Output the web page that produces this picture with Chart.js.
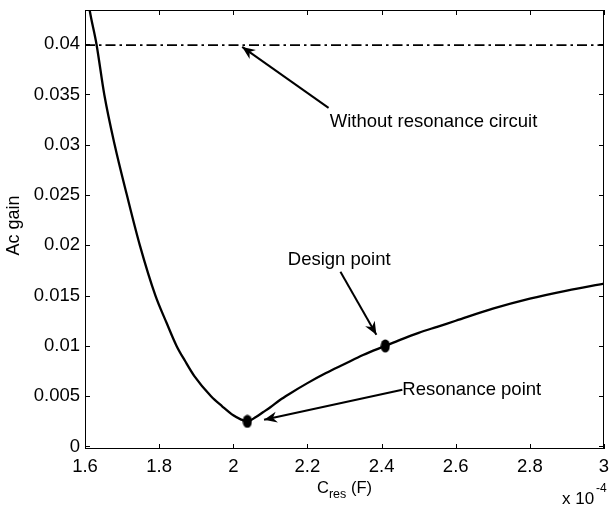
<!DOCTYPE html>
<html>
<head>
<meta charset="utf-8">
<script src="https://cdn.jsdelivr.net/npm/chart.js@4"></script>
<style>
  html, body { margin: 0; padding: 0; background: #fff; }
</style>
</head>
<body>
<canvas id="myChart" width="612" height="509"></canvas>
<script>
// Courbe du gain en fonction de C_res (abscisse en x 10^-4 F)
var cres = [1.600, 1.613, 1.631, 1.652, 1.680, 1.713, 1.748, 1.790, 1.820, 1.847,
            1.870, 1.895, 1.940, 1.970, 2.000, 2.020, 2.038, 2.060, 2.080, 2.100,
            2.125, 2.150, 2.200, 2.250, 2.300, 2.350, 2.410, 2.450, 2.500, 2.550,
            2.600, 2.700, 2.800, 2.900, 3.000];
var gain = [0.0465, 0.0433, 0.0400, 0.0350, 0.0300, 0.0250, 0.0200, 0.0150, 0.0123, 0.0100,
            0.0085, 0.0070, 0.0050, 0.0040, 0.0031, 0.0027, 0.0025, 0.0029, 0.0034, 0.0039,
            0.0046, 0.0052, 0.0063, 0.0073, 0.0082, 0.0091, 0.0100, 0.0106, 0.0113, 0.0119,
            0.0125, 0.0137, 0.0147, 0.0155, 0.0162];

// Sans circuit de résonance (ligne mixte)
var sansResX = [1.6, 3.0];
var sansResY = [0.0399, 0.0399];

// Points remarquables : résonance puis dimensionnement
var pointsX = [2.038, 2.410];
var pointsY = [0.0025, 0.0100];

// Graduations
var xTicks = [1.6, 1.8, 2.0, 2.2, 2.4, 2.6, 2.8, 3.0];
var xLabels = ['1.6', '1.8', '2', '2.2', '2.4', '2.6', '2.8', '3'];
var yTicks = [0, 0.005, 0.01, 0.015, 0.02, 0.025, 0.03, 0.035, 0.04];
var yLabels = ['0', '0.005', '0.01', '0.015', '0.02', '0.025', '0.03', '0.035', '0.04'];

// Annotations (coordonnées en données)
var annotations = [
  { text: 'Without resonance circuit', tx: 2.260, ty: 0.03227, from: [2.257, 0.03367], to: [2.024, 0.03973] },
  { text: 'Design point', tx: 2.147, ty: 0.01856, from: [2.289, 0.01737], to: [2.386, 0.01111] },
  { text: 'Resonance point', tx: 2.456, ty: 0.00564, from: [2.456, 0.00564], to: [2.083, 0.00265] }
];

var police = '"Liberation Sans", Arial, sans-serif';

// Marqueur ellipse pleine
var ellipse = document.createElement('canvas');
ellipse.width = 10;
ellipse.height = 14;
var ec = ellipse.getContext('2d');
ec.fillStyle = '#000';
ec.beginPath();
ec.ellipse(5, 7, 4.6, 6.6, 0, 0, Math.PI * 2);
ec.fill();

function fleche(ctx, x1, y1, x2, y2) {
  ctx.beginPath();
  ctx.moveTo(x1, y1);
  ctx.lineTo(x2, y2);
  ctx.stroke();
  var a = Math.atan2(y2 - y1, x2 - x1);
  var L = 13, W = 5.5, N = 9;
  ctx.save();
  ctx.translate(x2, y2);
  ctx.rotate(a);
  ctx.beginPath();
  ctx.moveTo(0, 0);
  ctx.lineTo(-L, -W);
  ctx.lineTo(-N, 0);
  ctx.lineTo(-L, W);
  ctx.closePath();
  ctx.fill();
  ctx.restore();
}

var cadre = {
  id: 'cadre',
  afterDraw: function(chart) {
    var ctx = chart.ctx;
    var a = chart.chartArea;
    var sx = chart.scales.x, sy = chart.scales.y;
    ctx.save();
    ctx.strokeStyle = '#000';
    ctx.fillStyle = '#000';
    ctx.lineWidth = 1;
    ctx.strokeRect(a.left + 0.5, a.top + 0.5, a.right - a.left - 1, a.bottom - a.top - 1);

    // graduations intérieures sur les quatre côtés
    ctx.beginPath();
    xTicks.forEach(function(v) {
      var px = Math.round(sx.getPixelForValue(v)) + 0.5;
      ctx.moveTo(px, a.bottom); ctx.lineTo(px, a.bottom - 5);
      ctx.moveTo(px, a.top); ctx.lineTo(px, a.top + 5);
    });
    yTicks.forEach(function(v) {
      var py = Math.round(sy.getPixelForValue(v)) + 0.5;
      ctx.moveTo(a.left, py); ctx.lineTo(a.left + 5, py);
      ctx.moveTo(a.right, py); ctx.lineTo(a.right - 5, py);
    });
    ctx.stroke();

    // annotations
    ctx.lineWidth = 2;
    ctx.font = '18.5px ' + police;
    ctx.textAlign = 'left';
    ctx.textBaseline = 'middle';
    annotations.forEach(function(an) {
      ctx.fillText(an.text, sx.getPixelForValue(an.tx), sy.getPixelForValue(an.ty));
      fleche(ctx, sx.getPixelForValue(an.from[0]), sy.getPixelForValue(an.from[1]),
                  sx.getPixelForValue(an.to[0]), sy.getPixelForValue(an.to[1]));
    });

    // titre de l'axe x : C_res (F)
    var cx = (a.left + a.right) / 2;
    var by = a.bottom + 44;
    ctx.textBaseline = 'alphabetic';
    ctx.font = '16.5px ' + police;
    var w1 = ctx.measureText('C').width;
    var w3 = ctx.measureText(' (F)').width;
    ctx.font = '12.5px ' + police;
    var w2 = ctx.measureText('res').width;
    var x0 = cx - (w1 + w2 + w3) / 2;
    ctx.font = '16.5px ' + police;
    ctx.fillText('C', x0, by);
    ctx.font = '12.5px ' + police;
    ctx.fillText('res', x0 + w1, by + 5);
    ctx.font = '16.5px ' + police;
    ctx.fillText(' (F)', x0 + w1 + w2, by);

    // facteur d'échelle x 10^-4
    ctx.font = '17px ' + police;
    ctx.textAlign = 'left';
    ctx.fillText('x 10', 562, 504);
    ctx.font = '12px ' + police;
    ctx.fillText('-4', 596, 492);

    // titre de l'axe y
    ctx.font = '18px ' + police;
    ctx.textAlign = 'center';
    ctx.textBaseline = 'middle';
    ctx.translate(14, (a.top + a.bottom) / 2 - 4);
    ctx.rotate(-Math.PI / 2);
    ctx.fillText('Ac gain', 0, 0);
    ctx.restore();
  }
};

var ctx = document.getElementById('myChart').getContext('2d');
var myChart = new Chart(ctx, {
  type: 'scatter',
  data: {
    datasets: [{
      data: cres.map(function(x, i) { return { x: x, y: gain[i] }; }),
      showLine: true,
      borderColor: '#000',
      borderWidth: 2.3,
      pointRadius: 0,
      cubicInterpolationMode: 'monotone'
    }, {
      data: sansResX.map(function(x, i) { return { x: x, y: sansResY[i] }; }),
      showLine: true,
      borderColor: '#000',
      borderWidth: 1.8,
      borderDash: [10, 4, 2.5, 4],
      pointRadius: 0
    }, {
      data: pointsX.map(function(x, i) { return { x: x, y: pointsY[i] }; }),
      showLine: false,
      pointStyle: ellipse,
      pointRadius: 7
    }]
  },
  options: {
    responsive: false,
    animation: false,
    devicePixelRatio: 1,
    layout: { padding: { top: 10, right: 5, left: 0, bottom: 0 } },
    plugins: { legend: { display: false }, tooltip: { enabled: false } },
    scales: {
      x: {
        type: 'linear',
        min: 1.6,
        max: 3.0,
        afterBuildTicks: function(s) { s.ticks = xTicks.map(function(v) { return { value: v }; }); },
        afterFit: function(s) { s.height = 60; s.paddingLeft = 0; s.paddingRight = 0; },
        grid: { display: false, drawTicks: false },
        border: { display: false },
        ticks: {
          autoSkip: false,
          maxRotation: 0,
          padding: 7,
          color: '#000',
          font: { family: police, size: 18.5 },
          callback: function(value, index) { return xLabels[index]; }
        }
      },
      y: {
        type: 'linear',
        min: -0.00025,
        max: 0.0434,
        afterBuildTicks: function(s) { s.ticks = yTicks.map(function(v) { return { value: v }; }); },
        afterFit: function(s) { s.width = 85; s.paddingTop = 0; s.paddingBottom = 0; },
        grid: { display: false, drawTicks: false },
        border: { display: false },
        ticks: {
          autoSkip: false,
          padding: 5,
          color: '#000',
          font: { family: police, size: 18.5 },
          callback: function(value, index) { return yLabels[index]; }
        }
      }
    }
  },
  plugins: [cadre]
});
</script>
</body>
</html>
